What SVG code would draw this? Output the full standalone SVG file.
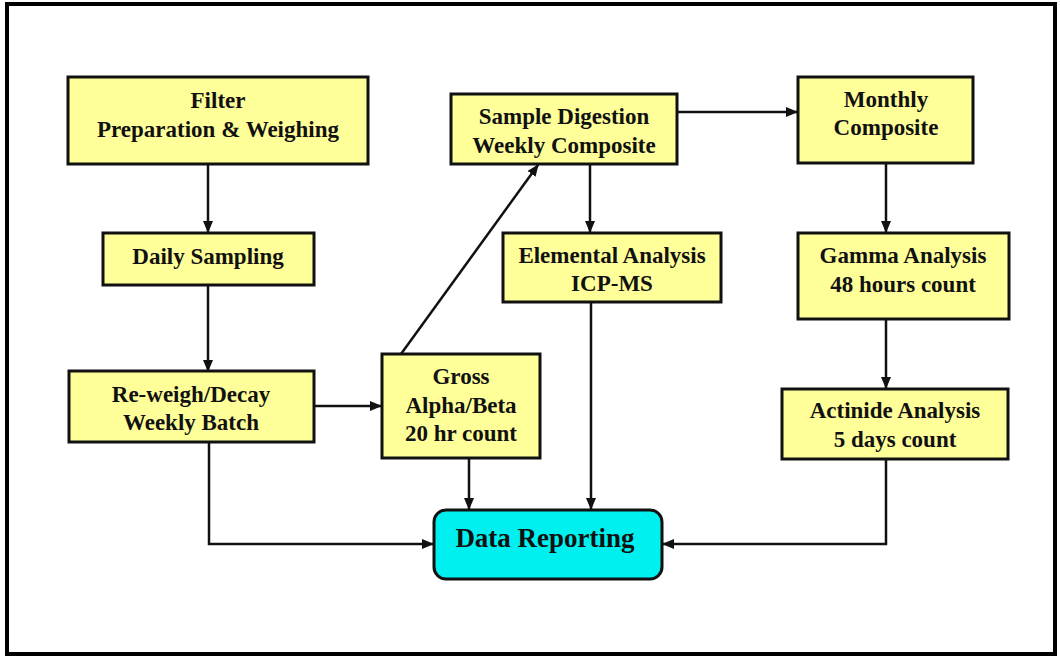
<svg xmlns="http://www.w3.org/2000/svg" width="1060" height="657" viewBox="0 0 1060 657">
<style>
.box{fill:#ffff99;stroke:#111;stroke-width:3}
.data{fill:#00f0f0;stroke:#111;stroke-width:3}
.t{font-family:"Liberation Serif","Times New Roman",serif;font-weight:bold;font-size:23px;fill:#111;text-anchor:middle}
.td{font-family:"Liberation Serif","Times New Roman",serif;font-weight:bold;font-size:27px;fill:#111;text-anchor:middle}
.c{fill:none;stroke:#111;stroke-width:2.5}
</style>
<defs>
<marker id="arr" markerUnits="userSpaceOnUse" markerWidth="12" markerHeight="12" viewBox="0 0 12 12" refX="11" refY="6" orient="auto">
<path d="M0,1 L12,6 L0,11 Z" fill="#111"/>
</marker>
</defs>
<rect x="7" y="4" width="1048" height="650" fill="#fff" stroke="#000" stroke-width="4"/>
<g id="connectors">
<path class="c" d="M208,164 L208,232" marker-end="url(#arr)"/>
<path class="c" d="M208,285 L208,371" marker-end="url(#arr)"/>
<path class="c" d="M314,406 L381,406" marker-end="url(#arr)"/>
<path class="c" d="M209,442 L209,544 L433,544" marker-end="url(#arr)"/>
<path class="c" d="M401,354 L538,165" marker-end="url(#arr)"/>
<path class="c" d="M469,458 L469,509" marker-end="url(#arr)"/>
<path class="c" d="M590,164 L590,232" marker-end="url(#arr)"/>
<path class="c" d="M591,302 L591,509" marker-end="url(#arr)"/>
<path class="c" d="M677,112 L797,112" marker-end="url(#arr)"/>
<path class="c" d="M886,163 L886,232" marker-end="url(#arr)"/>
<path class="c" d="M886,319 L886,388" marker-end="url(#arr)"/>
<path class="c" d="M886,459 L886,544 L663,544" marker-end="url(#arr)"/>
</g>
<g id="filter">
<rect class="box" x="68" y="77" width="300" height="87"/>
<text class="t" x="218" y="108">Filter</text>
<text class="t" x="218" y="137">Preparation &amp; Weighing</text>
</g>
<g id="daily">
<rect class="box" x="103" y="233" width="211" height="52"/>
<text class="t" x="208" y="264">Daily Sampling</text>
</g>
<g id="reweigh">
<rect class="box" x="69" y="371" width="245" height="71"/>
<text class="t" x="191" y="402">Re-weigh/Decay</text>
<text class="t" x="191" y="430">Weekly Batch</text>
</g>
<g id="gross">
<rect class="box" x="382" y="354" width="158" height="104"/>
<text class="t" x="461" y="384">Gross</text>
<text class="t" x="461" y="413">Alpha/Beta</text>
<text class="t" x="461" y="441">20 hr count</text>
</g>
<g id="digestion">
<rect class="box" x="451" y="94" width="226" height="70"/>
<text class="t" x="564" y="124">Sample Digestion</text>
<text class="t" x="564" y="153">Weekly Composite</text>
</g>
<g id="elemental">
<rect class="box" x="503" y="233" width="218" height="69"/>
<text class="t" x="612" y="263">Elemental Analysis</text>
<text class="t" x="612" y="291">ICP-MS</text>
</g>
<g id="monthly">
<rect class="box" x="798" y="77" width="175" height="86"/>
<text class="t" x="886" y="107">Monthly</text>
<text class="t" x="886" y="135">Composite</text>
</g>
<g id="gamma">
<rect class="box" x="798" y="233" width="211" height="86"/>
<text class="t" x="903" y="263">Gamma Analysis</text>
<text class="t" x="903" y="292">48 hours count</text>
</g>
<g id="actinide">
<rect class="box" x="782" y="389" width="226" height="70"/>
<text class="t" x="895" y="418">Actinide Analysis</text>
<text class="t" x="895" y="447">5 days count</text>
</g>
<g id="data">
<rect class="data" x="434" y="510" width="228" height="69" rx="12" ry="12"/>
<text class="td" x="545" y="547">Data Reporting</text>
</g>
</svg>
